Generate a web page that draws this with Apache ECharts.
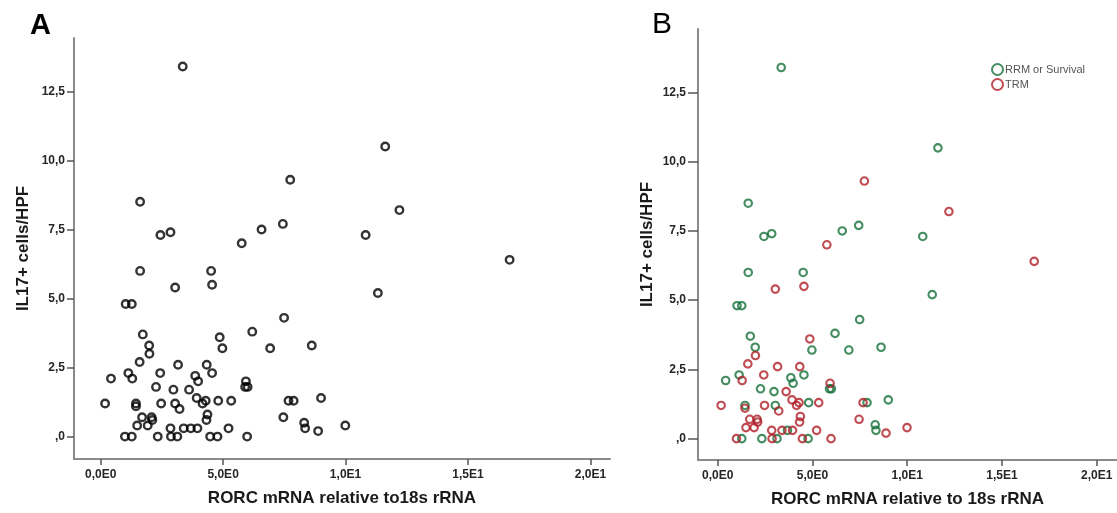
<!DOCTYPE html>
<html>
<head>
<meta charset="utf-8">
<script src="https://cdn.jsdelivr.net/npm/echarts@6/dist/echarts.min.js"></script>
<style>
  html, body { margin: 0; padding: 0; background: #fff; }
  #chart { width: 1117px; height: 513px; }
</style>
</head>
<body>
<div id="chart"></div>
<script>
// RRM or Survival (green)
var rrmX = [3.35, 11.62, 1.61, 2.44, 2.85, 6.57, 7.44, 10.82, 1.61, 4.51, 11.32, 1.02, 1.27, 7.49, 6.19,
  4.97, 6.92, 8.62, 1.72, 1.98, 0.42, 1.13, 3.86, 3.98, 4.55, 5.9, 6.0, 2.26, 2.97, 1.44,
  3.04, 4.80, 7.88, 9.0, 8.31, 8.35, 3.68, 1.27, 2.33, 3.13, 4.77];
var rrmY = [13.4, 10.5, 8.5, 7.3, 7.4, 7.5, 7.7, 7.3, 6.0, 6.0, 5.2, 4.8, 4.8, 4.3, 3.8,
  3.2, 3.2, 3.3, 3.7, 3.3, 2.1, 2.3, 2.2, 2.0, 2.3, 1.8, 1.8, 1.8, 1.7, 1.2,
  1.2, 1.3, 1.3, 1.4, 0.5, 0.3, 0.3, 0, 0, 0, 0];

// TRM (red)
var trmX = [7.74, 12.2, 5.76, 16.7, 3.04, 4.55, 4.86, 1.99, 1.59, 3.16, 4.33, 1.29, 2.43, 5.93, 3.61,
  0.18, 1.44, 2.47, 3.22, 3.92, 4.16, 4.29, 5.33, 7.67, 1.69, 2.08, 2.11, 1.49, 1.92, 4.36,
  4.32, 7.46, 8.88, 9.99, 2.85, 3.39, 3.95, 5.22, 0.99, 2.87, 4.47, 5.98];
var trmY = [9.3, 8.2, 7.0, 6.4, 5.4, 5.5, 3.6, 3.0, 2.7, 2.6, 2.6, 2.1, 2.3, 2.0, 1.7,
  1.2, 1.1, 1.2, 1.0, 1.4, 1.2, 1.3, 1.3, 1.3, 0.7, 0.7, 0.6, 0.4, 0.4, 0.8,
  0.6, 0.7, 0.2, 0.4, 0.3, 0.3, 0.3, 0.3, 0, 0, 0, 0];

var xTicks = [0, 5, 10, 15, 20];
var yTicks = [0, 2.5, 5, 7.5, 10, 12.5];
var groupNames = ['RRM or Survival', 'TRM'];

function pairs(xs, ys) {
  return xs.map(function (x, i) { return [x, ys[i]]; });
}

function fmtX(v) {
  if (v === 0) return '0,0E0';
  var e = Math.floor(Math.log10(v) + 1e-9);
  var m = v / Math.pow(10, e);
  return m.toFixed(1).replace('.', ',') + 'E' + e;
}
function fmtY(v) {
  if (v === 0) return ',0';
  return v.toFixed(1).replace('.', ',');
}

var labelFont = '"Liberation Sans", Arial, sans-serif';
var titleFont = 'Arial, "Liberation Sans", sans-serif';
var axisGray = '#8a8a8a';

function xAxisOf(idx, min, max, title) {
  return {
    type: 'value', gridIndex: idx, min: min, max: max,
    name: title, nameLocation: 'middle', nameGap: 31,
    nameTextStyle: { fontFamily: titleFont, fontWeight: 'bold', fontSize: 17, color: '#1a1a1a' },
    axisLine: { show: true, onZero: false, lineStyle: { color: axisGray, width: 2 } },
    axisTick: { show: true, length: 6, customValues: xTicks, lineStyle: { color: '#555', width: 1.5 } },
    axisLabel: { customValues: xTicks, formatter: fmtX, margin: 10,
      fontFamily: labelFont, fontWeight: 'bold', fontSize: 12, color: '#262626' },
    splitLine: { show: false }
  };
}
function yAxisOf(idx, min, max, tickLen) {
  return {
    type: 'value', gridIndex: idx, min: min, max: max,
    name: 'IL17+ cells/HPF', nameLocation: 'middle', nameGap: 42,
    nameTextStyle: { fontFamily: titleFont, fontWeight: 'bold', fontSize: 17, color: '#1a1a1a' },
    axisLine: { show: true, onZero: false, lineStyle: { color: axisGray, width: 2 } },
    axisTick: { show: true, length: tickLen, customValues: yTicks, lineStyle: { color: '#555', width: 1.5 } },
    axisLabel: { customValues: yTicks, formatter: fmtY, margin: tickLen + 2,
      fontFamily: labelFont, fontWeight: 'bold', fontSize: 12, color: '#262626' },
    splitLine: { show: false }
  };
}

function ring(color, width) {
  return { color: 'rgba(0,0,0,0)', borderColor: color, borderWidth: width };
}

var chart = echarts.init(document.getElementById('chart'), null, { renderer: 'canvas' });

var option = {
  backgroundColor: '#fff',
  animation: false,
  graphic: [
    { type: 'text', left: 30, top: 11, style: { text: 'A', font: 'bold 29px Arial, "Liberation Sans", sans-serif', fill: '#000' } },
    { type: 'text', left: 652, top: 10, style: { text: 'B', font: '30px Arial, "Liberation Sans", sans-serif', fill: '#000' } }
  ],
  legend: {
    data: groupNames,
    orient: 'vertical', left: 986, top: 58, itemGap: 2,
    itemWidth: 11, itemHeight: 11,
    textStyle: { fontFamily: labelFont, fontSize: 11, color: '#555', padding: [0, 0, 0, -3] }
  },
  grid: [
    { left: 74, top: 38, width: 536, height: 421 },
    { left: 698, top: 29, width: 419, height: 431 }
  ],
  xAxis: [
    xAxisOf(0, -1.09, 20.8, 'RORC mRNA relative to18s rRNA'),
    xAxisOf(1, -1.04, 21.07, 'RORC mRNA relative to 18s rRNA')
  ],
  yAxis: [
    yAxisOf(0, -0.81, 14.43, 7),
    yAxisOf(1, -0.77, 14.79, 10)
  ],
  series: [
    {
      name: 'all', type: 'scatter', xAxisIndex: 0, yAxisIndex: 0,
      symbol: 'circle', symbolSize: 7.5,
      itemStyle: ring('#000', 2.4),
      data: pairs(rrmX, rrmY).concat(pairs(trmX, trmY))
    },
    {
      name: groupNames[0], type: 'scatter', xAxisIndex: 1, yAxisIndex: 1,
      symbol: 'circle', symbolSize: 7.5,
      itemStyle: ring('#14703a', 2.1),
      data: pairs(rrmX, rrmY)
    },
    {
      name: groupNames[1], type: 'scatter', xAxisIndex: 1, yAxisIndex: 1,
      symbol: 'circle', symbolSize: 7.5,
      itemStyle: ring('#b01f28', 2.1),
      data: pairs(trmX, trmY)
    }
  ]
};

chart.setOption(option);
</script>
</body>
</html>
